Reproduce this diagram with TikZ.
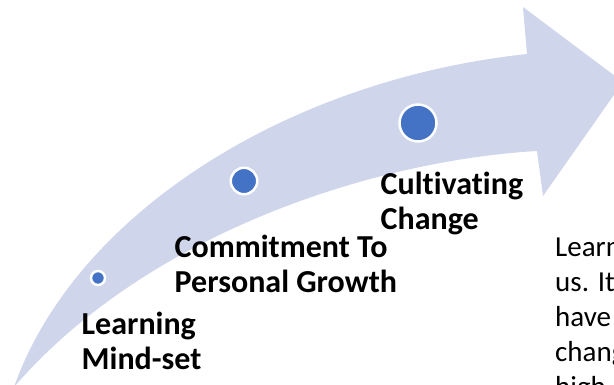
\documentclass[tikz,border=0pt]{standalone}
\usepackage{fontspec}
\setmainfont{Carlito}[Ligatures=NoCommon]
\definecolor{bandfill}{RGB}{207,213,234}
\definecolor{dotblue}{RGB}{68,114,196}
\begin{document}
\begin{tikzpicture}[x=1pt,y=-1pt,
  dot/.style={circle, fill=dotblue, draw=white, line width=2.5pt, inner sep=0pt},
  heading/.style={anchor=base west, inner sep=0pt,
    font=\fontsize{32}{35}\selectfont\bfseries},
  bodytext/.style={anchor=base west, inner sep=0pt,
    font=\fontsize{29}{35}\selectfont}]
\useasboundingbox (0,0) rectangle (614,385);
\clip (0,0) rectangle (614,385);
% curved band ending in an arrowhead
\fill[bandfill] (14,387) .. controls (75,215) and (285,80) .. (527,54)
  -- (523,7) -- (623,82) -- (543,196) -- (537,151)
  .. controls (380,160) and (150,230) .. cycle;
% milestone dots
\node[dot, minimum size=14pt] (d1) at (98,278) {};
\node[dot, minimum size=26.5pt] (d2) at (244,181) {};
\node[dot, minimum size=37pt] (d3) at (418,123) {};
% milestone labels
\node[heading] (l1) at (81.5,334.5) {\begin{tabular}[t]{@{}l@{}}Learning\\Mind-set\end{tabular}};
\node[heading] (l2) at (174.5,258) {\begin{tabular}[t]{@{}l@{}}Commitment To\\Personal Growth\end{tabular}};
\node[heading] (l3) at (380.5,195) {\begin{tabular}[t]{@{}l@{}}Cultivating\\Change\end{tabular}};
% description text
\node[bodytext] (desc) at (555,257) {\begin{tabular}[t]{@{}l@{}}Learn\\us. It\\have\\change\\high\end{tabular}};
\end{tikzpicture}
\end{document}
